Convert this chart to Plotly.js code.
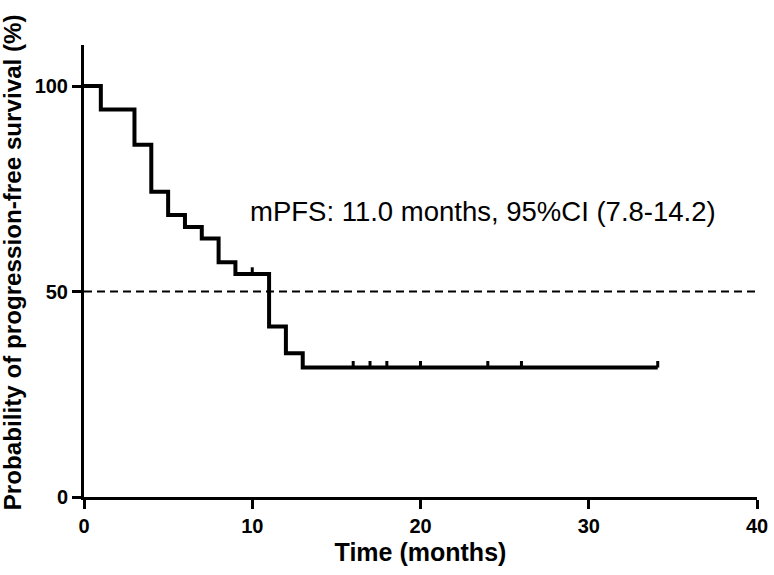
<!DOCTYPE html>
<html>
<head>
<meta charset="utf-8">
<script src="https://cdn.plot.ly/plotly-3.0.1.min.js"></script>
<style>html,body{margin:0;padding:0;background:#fff;}#chart{width:774px;height:575px;}</style>
</head>
<body>
<div id="chart"></div>
<script>
// Kaplan-Meier step data (time in months, survival %)
const stepTimes = [0, 1, 3, 4, 5, 6, 7, 8, 9, 11, 12, 13, 34.1];
const stepSurv  = [100, 94.3, 85.7, 74.3, 68.6, 65.7, 62.9, 57.1, 54.3, 41.5, 35.0, 31.5, 31.5];
// censored observations
const censorTimes = [10, 16, 17, 18, 20, 24, 26, 34.1];
const censorSurv  = [54.3, 31.5, 31.5, 31.5, 31.5, 31.5, 31.5, 31.5];
// reference line (median)
const medianLevel = 50;
const xTickVals = [0, 10, 20, 30, 40];
const yTickVals = [0, 50, 100];
const annotationText = "mPFS: 11.0 months, 95%CI (7.8-14.2)";
const yTitle = "Probability of progression-free survival (%)";
const xTitle = "Time (months)";

const FONT = "Liberation Sans, Arial, Helvetica, sans-serif";

const traces = [{
  x: stepTimes, y: stepSurv, type: 'scatter', mode: 'lines',
  line: {shape: 'hv', color: '#000', width: 4},
  cliponaxis: false, hoverinfo: 'skip', showlegend: false
}];

const shapes = [{
  type: 'line', xref: 'x', yref: 'y', x0: xTickVals[0], x1: xTickVals[xTickVals.length-1],
  y0: medianLevel, y1: medianLevel,
  line: {color: '#000', width: 2, dash: '8px,5px'}
}];
censorTimes.forEach((t, i) => {
  shapes.push({
    type: 'line', xref: 'x', yref: 'y', x0: t, x1: t,
    y0: censorSurv[i], y1: censorSurv[i] + 1.6,
    line: {color: '#000', width: 3}
  });
});

const layout = {
  width: 774, height: 575,
  margin: {l: 84, r: 17, t: 45, b: 78},
  paper_bgcolor: '#fff', plot_bgcolor: '#fff',
  showlegend: false,
  font: {family: FONT, color: '#000'},
  xaxis: {
    range: [0, 40], tickvals: xTickVals, ticktext: xTickVals.map(v => '<b>' + v + '</b>'),
    showgrid: false, zeroline: false, showline: true, linecolor: '#000', linewidth: 3,
    ticks: 'outside', ticklen: 9, tickwidth: 3, tickcolor: '#000',
    tickfont: {family: FONT, size: 20, color: '#000'},
    title: {text: '<b>' + xTitle + '</b>', font: {family: FONT, size: 25, color: '#000'}, standoff: 8}
  },
  yaxis: {
    range: [0, 110], tickvals: yTickVals, ticktext: yTickVals.map(v => '<b>' + v + '</b>'),
    showgrid: false, zeroline: false, showline: true, linecolor: '#000', linewidth: 3,
    ticks: 'outside', ticklen: 9, tickwidth: 3, tickcolor: '#000',
    tickfont: {family: FONT, size: 20, color: '#000'}
  },
  shapes: shapes,
  annotations: [{
    text: annotationText, xref: 'x', yref: 'y', x: 23.7, y: 69.6,
    showarrow: false, font: {family: FONT, size: 27.5, color: '#000'}
  }, {
    text: '<b>' + yTitle + '</b>', xref: 'paper', yref: 'paper', x: -0.105, y: 0.52,
    xanchor: 'center', yanchor: 'middle', textangle: -90, showarrow: false,
    font: {family: FONT, size: 24.2, color: '#000'}
  }]
};

Plotly.newPlot('chart', traces, layout, {displayModeBar: false, staticPlot: true});
</script>
</body>
</html>
